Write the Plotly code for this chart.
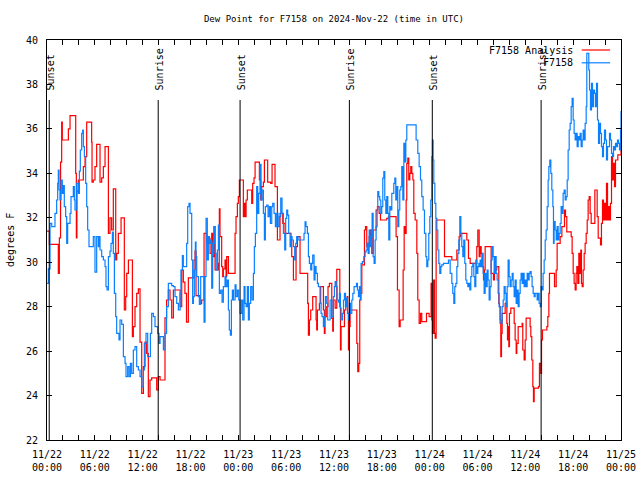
import plotly.graph_objects as go
import pandas as pd

# ---------------- data ----------------
start_time = "2024-11-22 00:00"

# F7158 Analysis (red) : hours after start, dew point in F
analysis_hours = [
    0, 0.3, 1.42, 1.55, 1.7, 1.84, 1.92, 2.68, 2.89, 3.6,
    3.68, 3.75, 3.93, 4.56, 4.77, 4.98, 5.6, 5.65, 5.81, 6.02,
    6.23, 6.65, 6.86, 7.07, 7.28, 7.7, 7.9, 8.11, 8.32, 8.62,
    8.74, 8.95, 9.29, 9.7, 9.87, 10.0, 10.21, 10.71, 10.83, 11.04,
    11.25, 11.46, 11.67, 11.88, 12.09, 12.3, 12.5, 12.71, 12.92, 13.13,
    13.76, 13.97, 14.18, 14.8, 15.0, 15.22, 15.43, 15.64, 15.85, 16.7,
    16.9, 17.1, 17.3, 17.5, 17.73,
    17.94, 18.44, 18.57, 18.69, 19.19, 19.4, 19.7, 20.03, 20.24, 20.45,
    20.66, 20.78, 20.95, 21.08, 21.5, 21.62, 21.7, 21.91, 22.04, 22.12,
    22.33, 22.46, 22.54, 22.75, 23.59, 23.71, 23.88, 24.0, 24.13, 24.63,
    24.76, 24.84, 24.97, 25.13, 25.68, 25.8, 25.97, 26.1, 26.64, 26.81,
    26.93, 27.14, 27.27, 27.68, 28.06, 28.23, 28.6, 28.9, 29.23, 29.57,
    29.86, 30.61, 30.7, 30.91, 31.24, 31.41, 31.74, 32.7, 32.79, 32.91,
    33.08, 33.33, 33.75, 33.83, 33.92, 34.17, 34.33, 34.67, 34.79, 34.88,
    35.09, 35.25, 35.42, 35.72, 35.84, 35.92,
    36.14, 36.35, 36.73, 36.81, 36.89, 37.31, 37.48, 37.65, 37.73, 37.81,
    37.9, 38.02, 38.86, 38.98, 39.11, 39.23, 39.32, 39.49, 39.82, 39.95,
    40.11, 40.24, 40.41, 40.57, 40.74, 40.91, 41.28, 41.45, 41.66, 41.83,
    42.62, 42.83, 43.79, 43.96, 44.17, 44.3, 44.67, 44.8, 44.92, 45.05,
    45.13, 45.26, 45.38, 45.51, 45.63, 45.76, 45.89, 46.01, 46.18, 46.39,
    46.51, 46.68, 46.85, 47.01, 47.6, 47.93, 48.18, 48.27, 48.35, 48.48,
    48.6, 48.69, 48.81, 49.86, 50.78, 51.41, 51.7, 51.87, 52.66, 52.87,
    53.08, 53.91, 54.04, 54.21,
    54.33, 54.46, 54.58, 54.75, 54.87, 54.96, 55.71, 56.0, 56.13, 56.42,
    56.67, 56.76, 56.84, 56.92, 57.01, 57.09, 57.47, 57.68, 57.76, 57.84,
    57.93, 58.01, 58.18, 58.6, 58.72, 58.85, 58.93, 59.1, 59.6, 59.68,
    59.85, 59.98, 60.1, 60.6, 60.69, 60.81, 60.94, 61.02, 61.11, 61.65,
    61.77, 61.94, 62.03, 62.15, 62.7, 62.82, 62.95, 63.03, 63.66, 63.87,
    63.99, 64.37, 64.58, 64.91, 65.04, 65.2, 65.75, 65.87, 66.0, 66.12,
    66.25, 66.37, 66.46, 66.58, 66.71, 66.83, 66.96, 67.04, 67.13, 67.25,
    67.38, 67.5, 67.63, 67.76, 67.88, 68.01, 68.13, 68.26, 68.72, 69.01,
    69.14, 69.43, 69.55, 69.68, 69.8, 69.93, 70.06, 70.18, 70.31, 70.43,
    70.56, 70.68, 70.81, 70.94, 71.06, 71.19, 71.31, 71.6, 72.0,
]
analysis_dewpoint = [
    31.4, 30.8, 29.5, 31.1, 34.5, 36.3, 35.5, 36.0, 36.6, 34.0,
    31.1, 33.2, 33.7, 34.3, 34.75, 36.3, 35.4, 33.6, 33.7, 34.3,
    35.3, 33.6, 33.8, 34.3, 35.2, 31.3, 32.0, 31.45, 33.3, 30.1,
    30.4, 31.3, 32.0, 27.85, 28.45, 29.5, 30.1, 26.65, 27.1, 28.0,
    28.6, 28.8, 26.4, 24.1, 25.3, 26.4, 25.9, 23.95, 24.7, 24.8,
    24.25, 24.85, 24.7, 27.5, 28.3, 28.75, 28.3, 27.5, 28.75, 28.0,
    29.65, 29.1, 28.6, 27.3, 29.3,
    29.3, 30.1, 30.5, 28.5, 28.15, 28.3, 31.3, 30.85, 31.07, 30.4,
    31.3, 30.25, 31.6, 29.65, 29.95, 32.4, 31.15, 29.8, 29.35, 29.7,
    30.1, 29.35, 30.25, 29.5, 31.3, 32.05, 32.65, 32.95, 33.7, 32.05,
    32.65, 32.05, 32.8, 33.25, 32.65, 33.55, 33.8, 34.5, 33.7, 32.8,
    33.4, 33.6, 34.6, 33.6, 33.55, 34.4, 33.4, 31.0, 32.2, 31.75,
    31.3, 31.0, 30.25, 29.2, 30.7, 31.15, 29.5, 28.15, 26.72, 27.4,
    27.85, 28.45, 27.4, 26.95, 27.85, 28.15, 28.9, 27.85, 26.8, 27.55,
    28.0, 28.9, 29.05, 27.47, 26.9, 28.3,
    27.93, 29.68, 28.0, 26.05, 27.1, 27.85, 28.3, 28.45, 27.7, 26.05,
    27.1, 27.85, 26.35, 25.08, 25.45, 28.3, 28.6, 29.88, 31.45, 31.6,
    30.7, 30.85, 31.15, 31.45, 30.4, 31.45, 32.35, 32.5, 32.2, 31.9,
    31.97, 32.05, 31.15, 28.75, 27.1, 27.4, 29.65, 31.6, 31.3, 32.8,
    34.45, 34.68, 33.7, 34.0, 34.3, 34.0, 33.7, 32.2, 31.9, 30.4,
    28.3, 27.25, 27.7, 27.33, 27.7, 27.55, 29.05, 27.4, 26.8, 29.2,
    26.8, 26.58, 31.9, 30.25, 30.1, 30.55, 31.15, 31.3, 31.0, 30.17,
    29.95, 30.7, 31.45, 30.25,
    30.7, 30.4, 29.8, 29.2, 29.65, 30.7, 29.5, 29.2, 29.65, 29.8,
    28.15, 28.0, 27.25, 25.75, 26.8, 27.7, 28.15, 27.25, 26.5, 27.1,
    26.2, 27.7, 27.93, 27.25, 26.5, 25.9, 26.35, 27.1, 27.25, 26.05,
    25.6, 26.5, 27.48, 27.1, 26.65, 25.6, 24.4, 23.73, 24.33, 24.4,
    25.45, 25.0, 26.5, 26.95, 27.1, 27.55, 28.6, 29.5, 28.9, 29.65,
    30.85, 31.15, 31.6, 32.35, 32.05, 31.37, 31.15, 30.4, 29.5, 29.05,
    28.75, 29.5, 29.8, 29.05, 30.4, 29.5, 30.55, 29.05, 28.9, 29.65,
    30.4, 30.85, 31.3, 31.9, 32.8, 32.95, 32.2, 31.75, 33.25, 32.05,
    31.08, 30.78, 31.75, 32.8, 31.9, 32.65, 31.9, 33.55, 31.9, 32.5,
    31.9, 32.65, 34.75, 33.7, 34.45, 33.4, 34.6, 34.83, 35.3,
]

# F7158 observations (blue)
station_hours = [
    0, 0.17, 0.38, 0.59, 1.0, 1.21, 1.34, 1.42, 1.51, 1.63,
    1.76, 1.92, 2.05, 2.17, 2.34, 2.47, 2.59, 2.89, 3.01, 3.3,
    3.43, 3.51, 3.72, 3.93, 4.06, 4.18, 4.35, 4.48, 4.56, 4.69,
    4.85, 4.98, 5.1, 5.27, 5.81, 6.02, 6.23, 6.44, 6.52, 6.65,
    6.86, 7.07, 7.28, 7.4, 7.53, 7.7, 7.9, 8.03, 8.2, 8.32,
    8.45, 8.62, 8.74, 9.03, 9.16, 9.37, 9.58, 9.79, 9.91, 10.12,
    10.29, 10.46, 10.62, 10.83, 11.04, 11.25, 11.46, 11.67, 11.88, 12.09,
    12.21, 12.42, 12.63, 12.97, 13.13, 13.34, 13.55, 13.89, 14.05, 14.18,
    14.6, 14.8, 15.0, 15.22, 15.64, 15.85, 16.06, 16.27, 16.48, 16.7,
    16.8, 16.98, 17.1, 17.52, 17.65, 17.81,
    17.94, 18.15, 18.27, 18.36, 18.48, 18.61, 18.69, 18.78, 18.99, 19.11,
    19.28, 19.7, 19.82, 19.95, 20.11, 20.24, 20.37, 20.53, 20.66, 20.78,
    20.95, 21.08, 21.2, 21.37, 21.5, 21.62, 21.79, 21.96, 22.12, 22.33,
    22.46, 22.62, 22.75, 22.87, 23.0, 23.13, 23.25, 23.38, 23.59, 23.71,
    23.88, 24.05, 24.21, 24.42, 24.55, 24.72, 24.84, 24.97, 25.13, 25.26,
    25.38, 25.55, 25.72, 25.89, 26.01, 26.14, 26.3, 26.43, 26.56, 26.72,
    26.85, 26.97, 27.14, 27.27, 27.39, 27.56, 27.73, 27.89, 28.02, 28.19,
    28.31, 28.48, 28.65, 28.81, 28.98, 29.15, 29.32, 29.48, 29.65, 29.82,
    29.94, 30.07, 30.19, 30.32, 30.49, 30.61, 30.74, 30.91, 31.07, 31.2,
    31.32, 31.49, 32.24, 32.37, 32.49, 32.66, 32.79, 32.91, 33.08, 33.21,
    33.33, 33.5, 33.62, 33.75, 33.92, 34.04, 34.25, 34.38, 34.5, 34.67,
    34.79, 34.92, 35.09, 35.21, 35.51, 35.72, 35.92, 36.05,
    36.14, 36.27, 36.39, 36.56, 36.68, 36.81, 36.89, 37.06, 37.19, 37.31,
    37.44, 37.56, 37.69, 37.81, 37.94, 38.06, 38.23, 38.36, 38.52, 38.82,
    38.94, 39.07, 39.19, 39.32, 39.4, 39.57, 39.74, 39.9, 40.03, 40.15,
    40.28, 40.41, 40.53, 40.66, 40.78, 40.91, 41.03, 41.16, 41.28, 41.41,
    41.49, 41.62, 41.74, 41.87, 41.99, 42.12, 42.25, 42.37, 42.5, 42.62,
    42.75, 42.87, 43.0, 43.12, 43.25, 43.5, 43.63, 43.75, 43.88, 44.0,
    44.13, 44.25, 44.38, 44.5, 44.63, 44.76, 44.88, 45.01, 45.13, 46.3,
    46.51, 46.68, 46.85, 47.01, 47.18, 47.35, 47.52, 47.64, 47.77, 47.89,
    48.02, 48.14, 48.27, 48.35, 48.44, 48.52, 48.65, 48.77, 48.9, 49.02,
    49.15, 49.27, 49.4, 49.52, 49.73, 50.36, 50.57, 50.78, 50.9, 51.03,
    51.15, 51.28, 51.41, 51.53, 51.66, 51.78, 51.91, 52.03, 52.16, 52.28,
    52.41, 52.53, 52.66, 52.79, 52.91, 53.04, 53.16, 53.29, 53.41, 53.54,
    53.66, 53.79, 53.91, 54.04, 54.17, 54.29,
    54.33, 54.46, 54.58, 54.71, 54.83, 54.96, 55.08, 55.21, 55.33, 55.46,
    55.58, 55.71, 55.84, 55.96, 56.09, 56.21, 56.34, 56.46, 56.59, 56.71,
    56.84, 56.96, 57.09, 57.22, 57.34, 57.47, 57.59, 57.72, 57.84, 57.97,
    58.09, 58.22, 58.35, 58.47, 58.6, 58.72, 58.85, 58.97, 59.1, 59.22,
    59.35, 59.47, 59.6, 59.73, 59.85, 59.98, 60.1, 60.23, 60.35, 60.48,
    60.6, 60.73, 60.85, 60.98, 61.11, 61.23, 61.48, 61.61, 61.73, 61.86,
    61.98, 62.11, 62.23, 62.36, 62.49, 62.61, 62.74, 62.86, 62.95, 63.07,
    63.2, 63.32, 63.45, 63.53, 63.61, 63.74, 63.87, 63.99, 64.12, 64.24,
    64.37, 64.49, 64.62, 64.74, 64.87, 65.0, 65.12, 65.25, 65.37, 65.5,
    65.62, 65.75, 65.87, 66.0, 66.12, 66.25, 66.37, 66.5, 66.63, 66.75,
    66.88, 67.0, 67.13, 67.25, 67.38, 67.5, 67.63, 67.71, 67.96, 68.05,
    68.17, 68.3, 68.42, 68.55, 68.68, 68.8, 68.93, 69.05, 69.18, 69.3,
    69.43, 69.55, 69.68, 69.8, 69.93, 70.06, 70.18, 70.31, 70.56, 70.68,
    70.81, 70.94, 71.06, 71.19, 71.31, 71.44, 71.56, 71.69, 71.81, 71.94,
    72.0,
]
station_dewpoint = [
    29.05, 29.7, 31.75, 31.6, 32.2, 32.8, 33.55, 34.15, 33.25, 32.8,
    33.7, 33.1, 33.45, 32.5, 32.05, 30.85, 31.75, 32.2, 32.95, 33.4,
    32.8, 32.35, 33.55, 33.1, 34.1, 35.05, 35.8, 35.95, 35.2, 34.75,
    33.55, 32.5, 31.45, 30.7, 31.15, 29.55, 31.15, 30.7, 31.15, 30.55,
    30.25, 30.1, 29.8, 28.9, 28.75, 30.25, 30.5, 30.85, 31.35, 30.4,
    28.6, 27.55, 26.8, 26.5, 27.4, 27.2, 25.75, 25.45, 24.85, 25.3,
    24.85, 25.45, 25.0, 26.05, 26.2, 25.3, 25.15, 24.85, 24.4, 25.15,
    26.35, 26.8, 25.75, 26.8, 27.7, 27.55, 27.1, 26.8, 26.35, 26.65,
    26.05, 26.8, 28.0, 29.05, 28.95, 28.9, 28.45, 28.15, 27.85, 28.6,
    29.65, 30.3, 29.8, 30.85, 32.5, 32.65,
    32.2, 30.1, 28.15, 28.45, 29.65, 30.9, 30.25, 29.35, 28.45, 28.1,
    29.35, 27.3, 29.35, 31.97, 30.1, 31.15, 30.85, 31.0, 28.83, 30.85,
    31.6, 30.4, 29.65, 30.55, 31.67, 28.6, 28.75, 28.2, 28.9, 29.35,
    28.9, 29.2, 27.85, 26.95, 26.72, 28.3, 28.75, 28.3, 28.98, 28.45,
    28.75, 28.3, 27.7, 28.3, 27.4, 28.9, 28.15, 28.0, 28.9, 27.4,
    28.15, 28.9, 28.3, 29.5, 30.7, 31.3, 33.4, 32.2, 33.1, 34.4,
    32.8, 33.25, 32.2, 31.0, 32.5, 32.57, 32.05, 32.5, 31.75, 32.5,
    32.65, 32.2, 31.6, 32.2, 31.6, 32.05, 32.88, 32.2, 31.3, 30.55,
    31.97, 32.35, 32.12, 31.3, 30.7, 31.15, 31.0, 30.7, 30.1, 30.85,
    31.15, 31.0, 31.3, 31.82, 31.6, 31.3, 30.25, 29.95, 29.65, 29.95,
    30.32, 29.2, 29.8, 29.5, 29.05, 28.9, 28.15, 27.7, 27.55, 27.1,
    27.55, 28.45, 28.15, 27.4, 28.3, 27.55, 28.45, 28.9,
    29.13, 28.9, 28.3, 28.2, 28.6, 27.93, 27.4, 27.7, 28.3, 28.6,
    28.0, 28.38, 27.7, 27.4, 28.15, 27.7, 28.3, 28.6, 28.9, 29.05,
    28.75, 28.45, 28.9, 28.3, 29.95, 30.03, 30.25, 30.47, 30.55, 30.85,
    30.4, 31.45, 30.7, 31.15, 32.2, 30.25, 29.95, 31.0, 31.6, 32.35,
    33.18, 32.95, 32.8, 32.2, 32.5, 33.78, 34.08, 32.8, 32.2, 32.95,
    32.2, 31.0, 32.5, 32.35, 33.1, 33.55, 33.78, 32.8, 33.4, 31.6,
    32.35, 33.25, 33.4, 34.3, 32.8, 35.35, 34.52, 35.5, 36.18, 35.5,
    34.9, 34.3, 33.7, 32.95, 32.35, 31.3, 30.25, 29.8, 30.1, 31.3,
    32.05, 32.8, 34.75, 35.5, 34.6, 33.55, 32.65, 31.97, 31.45, 30.55,
    29.95, 29.5, 29.8, 29.88, 29.95, 30.1, 29.5, 29.05, 28.6, 28.15,
    28.9, 29.05, 29.8, 30.4, 31.0, 32.05, 31.3, 30.7, 30.25, 31.0,
    29.95, 29.2, 29.05, 28.9, 29.05, 28.75, 29.35, 29.8, 29.95, 29.35,
    28.9, 30.1, 29.5, 29.8, 29.95, 29.8,
    30.1, 29.8, 30.4, 29.5, 28.6, 29.5, 28.9, 29.65, 29.2, 28.3,
    28.9, 30.1, 30.7, 30.25, 29.5, 30.25, 29.5, 29.2, 28.6, 28.0,
    27.4, 27.25, 28.0, 28.3, 28.9, 28.6, 28.0, 28.9, 30.1, 29.35,
    28.9, 29.2, 29.5, 28.9, 28.45, 29.2, 28.15, 28.75, 28.0, 28.6,
    29.2, 29.5, 29.05, 29.5, 28.9, 29.2, 28.9, 29.5, 29.2, 29.5,
    29.58, 29.35, 28.9, 28.6, 28.45, 28.6, 28.3, 28.6, 28.15, 28.0,
    28.9, 28.75, 29.5, 30.1, 31.0, 31.45, 32.5, 33.7, 34.3, 34.6,
    34.0, 33.25, 32.5, 30.85, 31.83, 31.45, 31.0, 31.6, 31.0, 31.3,
    31.75, 32.5, 32.2, 33.1, 33.25, 32.8, 32.95, 33.7, 35.05, 35.95,
    36.25, 37.0, 37.37, 36.4, 35.8, 35.5, 35.8, 35.2, 35.65, 35.5,
    35.8, 35.2, 35.5, 35.95, 35.5, 36.25, 37.0, 39.4, 38.65, 37.75,
    36.85, 38.05, 37.0, 37.75, 37.6, 37.0, 38.05, 36.4, 35.35, 36.25,
    35.8, 35.2, 34.75, 35.35, 35.95, 35.5, 34.6, 35.2, 35.8, 35.5,
    34.9, 34.75, 35.2, 35.05, 35.35, 35.2, 35.5, 35.35, 35.05, 35.95,
    36.8,
]

# Sunset / sunrise events (hours after start)
event_labels = ["Sunset", "Sunrise", "Sunset", "Sunrise", "Sunset", "Sunrise"]
event_hours = [0.28, 13.95, 24.22, 37.93, 48.33, 61.98]
event_line_top = 37.3
event_label_base = 37.65

x_tick_hours = [0, 6, 12, 18, 24, 30, 36, 42, 48, 54, 60, 66, 72]
x_tick_labels = ["11/22<br>00:00", "11/22<br>06:00", "11/22<br>12:00", "11/22<br>18:00",
                 "11/23<br>00:00", "11/23<br>06:00", "11/23<br>12:00", "11/23<br>18:00",
                 "11/24<br>00:00", "11/24<br>06:00", "11/24<br>12:00", "11/24<br>18:00",
                 "11/25<br>00:00"]
y_range = [22, 40]
y_tick_values = [22, 24, 26, 28, 30, 32, 34, 36, 38, 40]

series_names = ["F7158 Analysis", "F7158"]
series_colors = ["#ff0000", "#0a80ff"]

# ---------------- build ----------------
if len(analysis_hours) != len(analysis_dewpoint):
    raise ValueError("analysis length mismatch %d %d" % (len(analysis_hours), len(analysis_dewpoint)))
if len(station_hours) != len(station_dewpoint):
    raise ValueError("station length mismatch %d %d" % (len(station_hours), len(station_dewpoint)))

t0 = pd.Timestamp(start_time)


def to_time(hours):
    return [t0 + pd.Timedelta(hours=h) for h in hours]


FONT = "DejaVu Sans Mono"
LW = 1.2
fig = go.Figure()
fig.add_trace(go.Scatter(x=to_time(analysis_hours), y=analysis_dewpoint, mode="lines",
                         name=series_names[0],
                         line=dict(color=series_colors[0], width=LW, shape="hv")))
fig.add_trace(go.Scatter(x=to_time(station_hours), y=station_dewpoint, mode="lines",
                         name=series_names[1],
                         line=dict(color=series_colors[1], width=LW, shape="hv")))

shapes = []
annotations = []
for lab, h in zip(event_labels, event_hours):
    t = t0 + pd.Timedelta(hours=h)
    shapes.append(dict(type="line", xref="x", yref="y", x0=t, x1=t,
                       y0=y_range[0], y1=event_line_top,
                       line=dict(color="black", width=1), layer="above"))
    annotations.append(dict(x=t, y=event_label_base, xref="x", yref="y", text=lab,
                            textangle=-90, showarrow=False, xanchor="center",
                            yanchor="bottom", xshift=1,
                            font=dict(family=FONT, size=10, color="black")))

# legend drawn gnuplot-style (text then sample line)
legend_rows_y = [0.975, 0.943]
for name, color, ly in zip(series_names, series_colors, legend_rows_y):
    annotations.append(dict(x=0.92, y=ly, xref="paper", yref="paper", text=name,
                            showarrow=False, xanchor="right", yanchor="middle",
                            font=dict(family=FONT, size=10, color="black")))
    shapes.append(dict(type="line", xref="paper", yref="paper", x0=0.9315, x1=0.981,
                       y0=ly, y1=ly, line=dict(color=color, width=LW)))

annotations.append(dict(x=-0.0645, y=0.5, xref="paper", yref="paper", text="degrees F",
                        textangle=-90, showarrow=False, xanchor="center", yanchor="middle",
                        font=dict(family=FONT, size=10, color="black")))

fig.update_layout(
    width=640, height=480, autosize=False,
    margin=dict(l=47, r=19, t=40, b=40, pad=0, autoexpand=False),
    paper_bgcolor="white", plot_bgcolor="white",
    showlegend=False,
    title=dict(text="Dew Point for F7158 on 2024-Nov-22 (time in UTC)",
               xref="paper", x=0.5, xanchor="center",
               yref="container", y=1 - 19 / 480, yanchor="middle",
               pad=dict(t=0, b=0, l=0, r=0),
               font=dict(family=FONT, size=9, color="black")),
    font=dict(family=FONT, size=10, color="black"),
    shapes=shapes, annotations=annotations,
)
fig.update_xaxes(
    type="date", automargin=False,
    range=[t0, t0 + pd.Timedelta(hours=72)],
    tickmode="array", tickvals=to_time(x_tick_hours), ticktext=x_tick_labels,
    ticks="inside", ticklen=5, tickcolor="black", tickwidth=1,
    minor=dict(tickmode="linear", tick0=t0, dtick=2 * 3600 * 1000, ticks="inside",
               ticklen=5, tickcolor="black", tickwidth=1, showgrid=False),
    showline=True, linecolor="black", linewidth=1, mirror="ticks",
    showgrid=False, zeroline=False,
    tickfont=dict(family=FONT, size=10, color="black"),
    ticklabelstandoff=5,
)
fig.update_yaxes(
    automargin=False,
    range=y_range, tickmode="array", tickvals=y_tick_values,
    ticks="inside", ticklen=5, tickcolor="black", tickwidth=1,
    showline=True, linecolor="black", linewidth=1, mirror="ticks",
    showgrid=False, zeroline=False,
    tickfont=dict(family=FONT, size=10, color="black"),
    ticklabelstandoff=6,
)

# the page body has a default 8px margin; remove it so the 640x480 figure fills the window
fig.write_html("out.html",
               config={"displayModeBar": False},
               post_script="document.body.style.margin='0px';document.body.style.padding='0px';")
